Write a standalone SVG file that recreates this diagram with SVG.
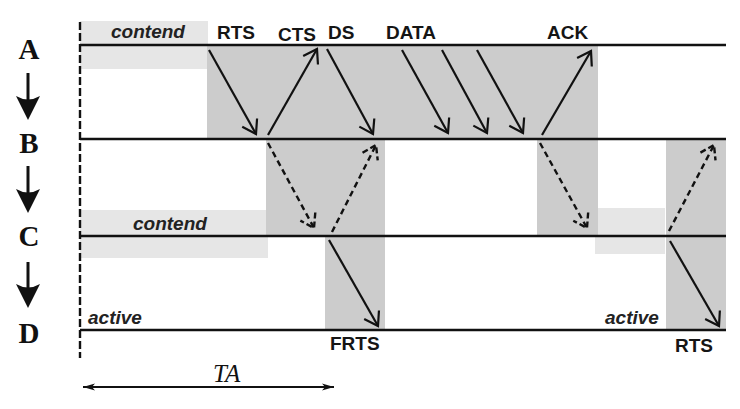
<svg xmlns="http://www.w3.org/2000/svg" width="740" height="409" viewBox="0 0 740 409">
<style>
.lt{fill:#e6e6e6}
.dk{fill:#cccccc}
.ln{stroke:#111;stroke-width:2.6;fill:none}
.ar{stroke:#111;stroke-width:2.2;fill:none;marker-end:url(#v)}
.da{stroke:#111;stroke-width:2.4;fill:none;stroke-dasharray:6 4;marker-end:url(#vd)}
.lb{font-family:"Liberation Sans",Arial,sans-serif;font-weight:bold;font-size:19px;fill:#151515}
.it{font-family:"Liberation Sans",Arial,sans-serif;font-weight:bold;font-style:italic;font-size:19px;fill:#222}
.st{font-family:"Liberation Serif","Times New Roman",serif;font-weight:bold;font-size:29px;fill:#111;text-anchor:middle}
.dn{stroke:#111;stroke-width:3}
</style>
<defs>
<marker id="v" markerUnits="userSpaceOnUse" markerWidth="24" markerHeight="24" viewBox="-18 -12 24 24" refX="0" refY="0" orient="auto">
<path d="M-13,-8.5 L0,0 L-13,8.5" stroke="#111" stroke-width="2.2" fill="none"/>
</marker>
<marker id="vd" markerUnits="userSpaceOnUse" markerWidth="24" markerHeight="24" viewBox="-18 -12 24 24" refX="0" refY="0" orient="auto">
<path d="M-13,-8.5 L0,0 L-13,8.5" stroke="#111" stroke-width="2.4" fill="none" stroke-dasharray="6 3"/>
</marker>
<marker id="ft" markerUnits="userSpaceOnUse" markerWidth="16" markerHeight="10" viewBox="-12 -5 14 10" refX="0" refY="0" orient="auto-start-reverse">
<path d="M-12,-3.5 L0,0 L-12,3.5 L-9,0 Z" fill="#111"/>
</marker>
<path id="dh" d="M0,0 L-12,-24 Q0,-17 12,-24 Z" fill="#111"/>
</defs>

<g id="shading">
<rect class="lt" x="80" y="21" width="128" height="48"/>
<rect class="lt" x="80" y="210" width="188" height="48"/>
<rect class="lt" x="595" y="208" width="70" height="46"/>
<rect class="dk" x="207" y="45" width="391" height="94"/>
<rect class="dk" x="266" y="139" width="119" height="97"/>
<rect class="dk" x="325" y="236" width="60" height="94"/>
<rect class="dk" x="537" y="139" width="61" height="97"/>
<rect class="dk" x="666" y="139" width="60" height="191"/>
</g>

<g id="timeline-start">
<line x1="80" y1="22" x2="80" y2="358" stroke="#111" stroke-width="2.4" stroke-dasharray="8 3"/>
</g>

<g id="node-A">
<line class="ln" x1="80" y1="45" x2="726" y2="45"/>
<text class="st" x="29" y="59">A</text>
<text class="it" x="148" y="38" text-anchor="middle">contend</text>
</g>
<g id="node-B">
<line class="ln" x1="80" y1="139" x2="726" y2="139"/>
<text class="st" x="29" y="153">B</text>
</g>
<g id="node-C">
<line class="ln" x1="80" y1="236" x2="726" y2="236"/>
<text class="st" x="29" y="246">C</text>
<text class="it" x="133" y="230">contend</text>
</g>
<g id="node-D">
<line class="ln" x1="80" y1="330" x2="726" y2="330"/>
<text class="st" x="29" y="343">D</text>
<text class="it" x="88" y="324">active</text>
<text class="it" x="605" y="324">active</text>
</g>

<g id="hop-arrows">
<line class="dn" x1="28" y1="73" x2="28" y2="102"/>
<use href="#dh" x="28" y="120"/>
<line class="dn" x1="28" y1="166" x2="28" y2="195"/>
<use href="#dh" x="28" y="213"/>
<line class="dn" x1="28" y1="262" x2="28" y2="290"/>
<use href="#dh" x="28" y="308"/>
</g>

<g id="connectors">
<line class="ar" x1="209" y1="50" x2="256" y2="134"/>
<line class="ar" x1="268" y1="135" x2="317" y2="49"/>
<line class="ar" x1="327" y1="49" x2="373" y2="134"/>
<line class="ar" x1="402" y1="50" x2="448" y2="133"/>
<line class="ar" x1="442" y1="50" x2="487" y2="133"/>
<line class="ar" x1="477" y1="50" x2="523" y2="133"/>
<line class="ar" x1="542" y1="135" x2="591" y2="51"/>
<line class="da" x1="268" y1="143" x2="314" y2="228"/>
<line class="da" x1="332" y1="232" x2="376" y2="145"/>
<line class="da" x1="540" y1="143" x2="587" y2="228"/>
<line class="da" x1="669" y1="231" x2="714" y2="145"/>
<line class="ar" x1="329" y1="240" x2="378" y2="326"/>
<line class="ar" x1="670" y1="241" x2="719" y2="326"/>
</g>

<g id="labels">
<text class="lb" x="217" y="39">RTS</text>
<text class="lb" x="278" y="41">CTS</text>
<text class="lb" x="328" y="39">DS</text>
<text class="lb" x="386" y="39">DATA</text>
<text class="lb" x="547" y="39">ACK</text>
<text class="lb" x="330" y="350">FRTS</text>
<text class="lb" x="675" y="352">RTS</text>
</g>

<g id="ta">
<line x1="83" y1="387" x2="334" y2="387" stroke="#111" stroke-width="1.8" marker-start="url(#ft)" marker-end="url(#ft)"/>
<text x="213" y="382" font-family="'Liberation Serif','Times New Roman',serif" font-style="italic" font-size="25" fill="#111">TA</text>
</g>
</svg>
